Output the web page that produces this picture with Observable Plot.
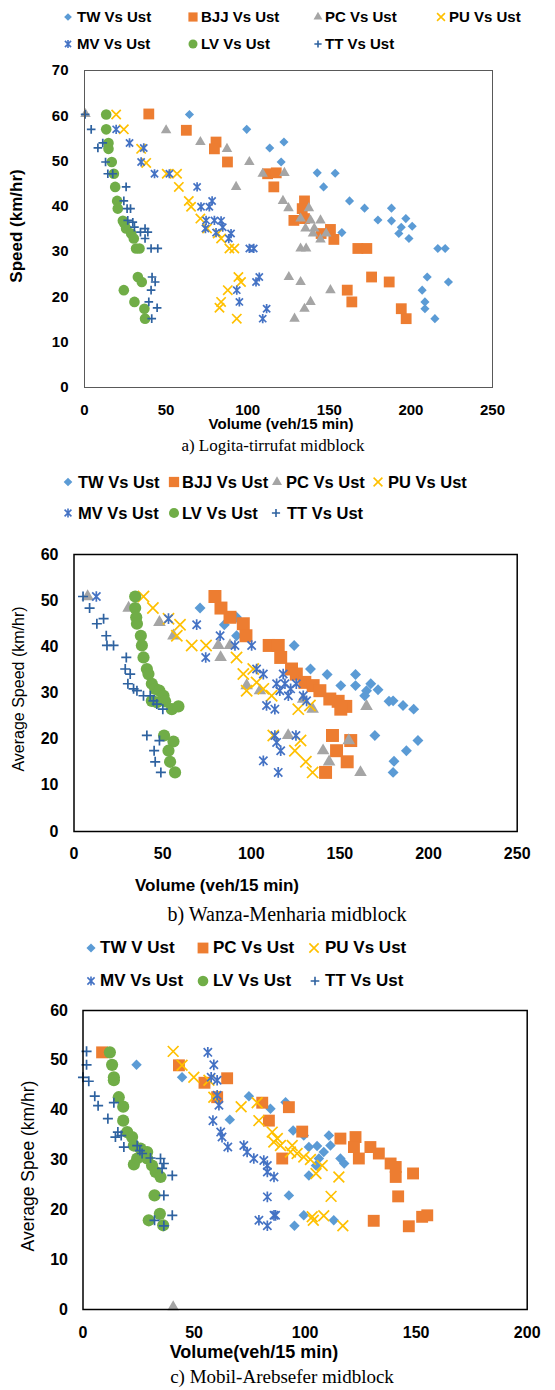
<!DOCTYPE html>
<html><head><meta charset="utf-8">
<script src="https://cdn.jsdelivr.net/npm/d3@7"></script>
<script src="https://cdn.jsdelivr.net/npm/@observablehq/plot@0.6"></script>
<style>
body{margin:0;background:#fff;}
#page{position:relative;width:555px;height:1390px;overflow:hidden;background:#fff;font-family:"Liberation Sans",Arial,sans-serif;color:#000;}
.abs{position:absolute;white-space:nowrap;line-height:1.15;}
.svgwrap{position:absolute;left:0;}
</style></head><body><div id="page"></div>
<script>
// ---------- Panel a) Logita-tirrufat midblock : [volume, speed] ----------
const aTW = [[64.3,60.3],[99.4,57],[113.5,52.9],[122.2,54.2],[120.5,49.8],[142.6,47.4],[153.6,47.3],[146.5,44.3],[162.4,41.2],[171.6,39.6],[188.1,39.6],[179.8,37],[188.1,36.8],[196.9,37.3],[194.1,35.4],[200.8,35.6],[192.6,34],[198.8,32.9],[157.7,34.2],[216.5,30.7],[221,30.7],[210,24.4],[223,23.3],[206.9,21.5],[208.6,18.9],[208.6,17.4],[214.7,15.2]];
const aBJJ = [[39.4,60.4],[62.4,56.8],[80.6,54.2],[79.6,52.7],[87.6,49.8],[112.2,47.2],[117.5,47.4],[116,44.3],[134.8,41.2],[133.4,39.5],[128.3,36.9],[134.8,37.3],[150.7,34.9],[145,34],[152.8,32.7],[167.5,30.7],[173,30.7],[175.9,24.4],[186.7,23.3],[161,21.5],[163.8,18.9],[194.1,17.4],[197.1,15.2]];
const aPC = [[0.6,60.4],[50,56.8],[71,54.2],[87.3,52.7],[101,49.8],[109.2,47.2],[122.5,47.4],[92.9,44.3],[121.6,41.2],[125,39.6],[137.5,39.6],[132.4,37.3],[138.5,36.9],[144.6,36.9],[135.4,35.1],[140.8,35.1],[140,34],[148.1,34],[144.6,32.7],[132.4,30.7],[135.8,30.7],[125.2,24.4],[132.4,23.3],[150.7,21.5],[138.5,18.9],[134.8,17.4],[128.7,15.2]];
const aPU = [[19.4,60.3],[24.1,57],[34.7,52.7],[37.8,49.6],[50.4,47.2],[56.7,47.2],[57.8,44.3],[63.9,41.2],[65.3,39.9],[71,37.3],[75.1,35.1],[81.6,34],[83.7,32.9],[88.8,30.7],[91.8,30.7],[94.3,24.4],[95.9,23.3],[87.8,21.5],[83.7,18.9],[82.7,17.6],[93.3,15.2]];
const aMV = [[19.4,57],[27.6,54],[36.3,52.9],[34.7,49.8],[42.9,47.2],[52,47.2],[69,44.3],[71.4,39.9],[76.5,39.9],[78.2,41.2],[74.5,36.9],[79.6,36.9],[83.7,36.8],[74.1,35.1],[80.6,34.2],[84.7,35.4],[89.8,34],[88.4,32.9],[101,30.7],[103.7,30.7],[93.3,21.5],[94.9,18.9],[105.1,23.3],[107.1,24.4],[111.6,17.4],[109.2,15.2]];
const aLV = [[13.3,60.3],[13.3,57],[14.7,54],[14.7,52.7],[16.7,49.8],[18,47.2],[18.8,44.3],[20,41.2],[20.4,39.5],[24.5,36.2],[23.5,36.8],[25.5,35.1],[28.6,34],[30.2,32.9],[31.6,30.7],[33.7,30.7],[32.7,24.4],[35.1,23.3],[24.1,21.5],[30.6,18.9],[36.7,17.4],[37.1,15.2]];
const aTT = [[0.4,60.3],[4.1,57],[8.2,52.9],[11.2,54],[12.9,49.8],[14.3,47.2],[17.3,47.2],[25.5,44.3],[24.1,41.2],[26.1,39.5],[28.2,39.5],[26.5,36.9],[29.6,36.5],[30.6,35.4],[37.1,35.1],[34.3,34.3],[38.8,34.3],[37.1,32.9],[40.8,30.7],[44.9,30.7],[41.4,24.4],[43.3,23.3],[40.8,21.5],[39.4,18.9],[44.5,17.6],[41.2,15.2]];
const aXTicks = [0,50,100,150,200,250];
const aYTicks = [0,10,20,30,40,50,60,70];

// ---------- Panel b) Wanza-Menharia midblock ----------
const bTW = [[71.1,48.4],[84.8,44.8],[91.7,46.4],[91.7,42.4],[124.2,40.3],[133.4,35.2],[142.8,34],[150.5,31.6],[158.8,34],[158.8,31.6],[167.4,32],[171.5,30.7],[165,30.5],[164,29.4],[177.7,28.2],[180,28.3],[185.6,27.3],[191.6,26.5],[169.7,20.8],[194,19.7],[187.5,17.5],[180.5,15.2],[180,12.8]];
const bBJJ = [[79.5,50.9],[82.9,48.4],[88,46.4],[95.5,45],[97,42.4],[110.1,40.3],[115.2,40.3],[116.6,37.7],[122.7,35.2],[125.4,34.1],[130.2,32.3],[134.9,31.6],[138.7,30.5],[144.3,28.7],[149,28.2],[153.3,27.1],[150.5,26.5],[145.8,20.8],[156.1,19.7],[148.1,17.5],[154.1,15.1],[141.9,12.8]];
const bPC = [[7.7,50.9],[30.8,48.4],[48.2,45.3],[56.1,42.4],[81.4,40.3],[88,40.3],[82.7,37.7],[97.4,31.6],[104.9,30.5],[129.3,28.7],[134.6,26.5],[165,27.1],[120.8,20.8],[155,19.7],[140.5,17.5],[143.9,15.1],[161.6,12.8]];
const bPU = [[39.2,50.9],[44.5,48.4],[53.3,46.1],[59.8,44.8],[58,42.4],[66.4,40.3],[74.5,40.3],[91.7,37.7],[95.5,34.1],[101.1,35.2],[97.4,30.5],[103,32.3],[106.8,30.9],[111.5,29.4],[126.5,26.5],[133.1,27.3],[112.4,20.8],[127.8,19.7],[124.6,17.5],[130.8,15.1],[134.6,12.8]];
const bMV = [[12.6,50.9],[53.3,46.1],[69.2,44.8],[82.4,42.4],[90.8,40.3],[100.2,40.3],[74.3,37.7],[103,35.2],[106.8,34.1],[108.6,27.3],[113.3,26.5],[114.3,32],[118,34.1],[116.1,30.5],[119,32],[122.2,30.9],[125.4,32],[120.9,29.4],[129.3,29.4],[131.2,28.3],[113.3,20.8],[114.3,19.3],[125.2,20.8],[116.6,17.5],[106.8,15.3],[115.2,12.8]];
const bLV = [[34.5,50.9],[34.5,48.4],[35.1,46.4],[35.5,45],[37.7,42.4],[38.3,40.3],[39.2,37.7],[41.1,35.2],[42,34.1],[43.9,32],[45.8,30.9],[48.2,30.5],[50.5,29.4],[43.9,28.3],[46.7,28],[51.4,28.2],[55.2,26.5],[58.9,27.1],[50.8,20.8],[56.1,19.5],[53.3,17.5],[54.2,15.1],[57,12.8]];
const bTT = [[5.1,50.9],[8.8,48.4],[12.9,45],[16.7,46.1],[18.2,42.4],[18.6,40.3],[22.3,40.3],[29.5,37.7],[28.9,35.2],[31.7,34.1],[30.4,32],[33.6,30.9],[35.5,30.5],[39.2,29.4],[43,29.4],[44.8,28.3],[46.7,27.6],[50.1,26.5],[41.1,20.8],[48.2,19.7],[45.2,17.5],[45.8,15.1],[49,12.8]];
const bXTicks = [0,50,100,150,200,250];
const bYTicks = [0,10,20,30,40,50,60];

// ---------- Panel c) Mobil-Arebsefer midblock ----------
const cTW = [[24.1,49.1],[44.6,46.6],[74.7,42.8],[66.1,38.1],[84.4,40.3],[91.2,41.6],[94.6,35.9],[99.4,34.9],[101.7,32.6],[105.4,32.8],[110.7,34.9],[111.4,32.9],[108.4,31.6],[106.2,30.3],[115.9,30.3],[117.6,29.3],[104.9,28.9],[101.7,26.9],[92.7,22.9],[99.4,18.9],[112.9,17.9],[95.2,16.8]];
const cPC = [[8.6,51.6],[43.2,49],[54.7,45.5],[64.9,46.4],[60.4,42.6],[80.7,41.5],[83.7,37.9],[92.7,40.6],[98.7,35.7],[89.7,30.3],[115.9,34.3],[122.7,34.6],[122,32.6],[124.2,30.3],[129.4,32.6],[133.2,31.3],[138.5,29.3],[140.8,28.6],[140.8,26.6],[148.6,27.3],[141.9,22.7],[130.9,17.8],[146.7,16.7],[152.7,18.6],[155,18.9]];
const cGray = [[40.6,0.5]];
const cPU = [[40.6,51.8],[44.6,49],[49.9,46.6],[56.7,46],[58.9,42.6],[71.2,40.7],[78.4,41.5],[79.2,37.9],[85.2,35.6],[87.5,34.3],[85.9,33.6],[88.9,32.9],[94.2,32.9],[93.4,31.6],[96.4,31.3],[99.4,30.6],[102.4,30.1],[107.7,28.9],[104.9,27.3],[115.2,26.6],[111.7,22.7],[103.2,18.6],[103.7,17.9],[108.4,18.8],[117,16.8]];
const cMV = [[56.2,51.6],[58.9,49.1],[57.7,46.6],[60.4,46],[60.4,43],[61.2,41],[58.5,37.9],[62,35.6],[62.6,34.6],[65.2,32.6],[72.4,32.9],[73.9,31.6],[76.9,30.3],[81.4,29.9],[83,28.9],[83,27.6],[86,26.6],[83,22.6],[79.2,17.9],[83,16.8],[86,18.9],[86.7,18.9]];
const cLV = [[12.1,51.6],[13.1,49.1],[13.9,46.6],[13.9,46],[16.1,42.6],[18.1,40.7],[18.1,37.9],[19.9,35.6],[22.1,34.6],[22.9,32.9],[25.9,32.3],[28.9,31.6],[22.9,29.1],[24.4,30.3],[28.9,30.3],[31.1,28.9],[32.7,27.6],[34.9,26.6],[32.2,22.9],[34.6,19.2],[29.6,17.9],[36.1,16.9]];
const cTT = [[1.6,51.8],[1.6,49.1],[0,46.6],[2.6,45.8],[5.3,42.8],[6.8,40.9],[11.2,38.3],[13.9,41.5],[15.7,35.6],[14.6,34.6],[17.2,34.9],[18.4,32.6],[24.4,32.9],[25.6,31.9],[26.6,31.3],[30.4,30.4],[34.9,30.3],[36.4,29.3],[35.6,28.3],[40.2,26.9],[36.4,22.9],[40.2,18.9],[36.4,16.8],[32.2,17.9]];
const cXTicks = [0,50,100,150,200];
const cYTicks = [0,10,20,30,40,50,60];

// ---------- styles ----------
const starSym = {draw(ctx, size){const r=Math.sqrt(size/Math.PI)*1.05;const d=r*0.78;ctx.moveTo(0,-r);ctx.lineTo(0,r);ctx.moveTo(-d,-d);ctx.lineTo(d,d);ctx.moveTo(-d,d);ctx.lineTo(d,-d);}};
const ST = {
  TW:{sym:d3.symbolDiamond2, color:"#5B9BD5", filled:true, r:4.1},
  BJJ:{sym:d3.symbolSquare, color:"#ED7D31", filled:true, r:6.1},
  PC:{sym:d3.symbolTriangle, color:"#A5A5A5", filled:true, r:3.9},
  PU:{sym:d3.symbolTimes, color:"#FFC000", filled:false, r:4.3},
  MV:{sym:starSym, color:"#4472C4", filled:false, r:4.4},
  LV:{sym:d3.symbolCircle, color:"#70AD47", filled:true, r:5.3},
  TT:{sym:d3.symbolPlus, color:"#2E62A0", filled:false, r:2.9}
};
function dots(data, key, k){
  const s = ST[key];
  const o = {x:d=>d[0], y:d=>d[1], symbol:s.sym, r:s.r*k};
  if (s.filled) { o.fill = s.color; o.stroke = "none"; }
  else { o.fill = "none"; o.stroke = s.color; o.strokeWidth = 1.7; }
  return Plot.dot(data, o);
}
const page = document.getElementById("page");
function addText(str, x, y, opts){
  const el = document.createElement("div");
  el.className = "abs";
  el.textContent = str;
  el.style.left = x+"px"; el.style.top = y+"px";
  el.style.fontSize = opts.size+"px";
  el.style.fontWeight = opts.bold ? "bold" : "normal";
  if (opts.serif) el.style.fontFamily = '"Liberation Serif","Times New Roman",serif';
  el.style.transform = "translate(-50%,-50%)" + (opts.rot ? " rotate(-90deg)" : "") + (opts.sx ? " scaleX("+opts.sx+")" : "");
  page.appendChild(el);
}
function addLegend(items, size, k){
  for (const it of items){
    const s = ST[it.key];
    const svg = d3.create("svg").attr("width",20).attr("height",20)
      .style("position","absolute").style("left",(it.mx-10)+"px").style("top",(it.y-10)+"px").style("overflow","visible");
    const area = Math.PI*(s.r*k)*(s.r*k);
    const p = svg.append("path").attr("transform","translate(10,10)").attr("d", d3.symbol(s.sym, area)());
    if (s.filled) p.attr("fill", s.color); else p.attr("fill","none").attr("stroke", s.color).attr("stroke-width",1.6);
    page.appendChild(svg.node());
    const el = document.createElement("div");
    el.className = "abs";
    el.textContent = it.label;
    el.style.left = it.tx+"px"; el.style.top = it.y+"px";
    el.style.transform = "translateY(-50%)";
    el.style.fontSize = size+"px"; el.style.fontWeight = "bold";
    page.appendChild(el);
  }
}
function addPlot(top, cfg){
  const svg = Plot.plot({
    width:555, height:cfg.h, marginTop:cfg.mt, marginBottom:cfg.h-cfg.fb, marginLeft:cfg.ml, marginRight:555-cfg.mr,
    x:{domain:cfg.xd, axis:null}, y:{domain:cfg.yd, axis:null},
    style:{fontFamily:'"Liberation Sans",Arial,sans-serif', fontSize:cfg.fs+"px", fontWeight:"bold", color:"#000", background:"transparent", overflow:"visible"},
    marks:[
      Plot.axisX(cfg.xt, {tickSize:0, tickPadding:cfg.xp, label:null}),
      Plot.axisY(cfg.yt, {tickSize:0, tickPadding:cfg.yp, label:null}),
      ...cfg.marks,
      Plot.frame({stroke:cfg.frame, strokeWidth:cfg.fw})
    ]
  });
  const wrap = document.createElement("div");
  wrap.className = "svgwrap"; wrap.style.top = top+"px";
  wrap.appendChild(svg);
  page.appendChild(wrap);
}

// ----- Panel a -----
addLegend([
  {key:"TW",label:"TW Vs Ust",mx:68,tx:77,y:17},{key:"BJJ",label:"BJJ Vs Ust",mx:193,tx:201,y:17},
  {key:"PC",label:"PC Vs Ust",mx:318,tx:325,y:17},{key:"PU",label:"PU Vs Ust",mx:441,tx:449,y:17},
  {key:"MV",label:"MV Vs Ust",mx:68,tx:77,y:44},{key:"LV",label:"LV Vs Ust",mx:193,tx:201,y:44},
  {key:"TT",label:"TT Vs Ust",mx:318,tx:325,y:44}
], 15, 0.85);
addPlot(55, {h:380, mt:15, fb:332, ml:84, mr:492, xd:[0,250], yd:[0,70], xt:aXTicks, yt:aYTicks, xp:17, yp:16, fs:15, frame:"#595959", fw:1,
  marks:[dots(aTW,"TW",1),dots(aBJJ,"BJJ",1),dots(aPC,"PC",1),dots(aPU,"PU",1),dots(aMV,"MV",1),dots(aLV,"LV",1),dots(aTT,"TT",1)]});
addText("Volume (veh/15 min)", 281, 424, {size:15, bold:true});
addText("Speed (km/hr)", 17, 226, {size:17, bold:true, rot:true});
addText("a) Logita-tirrufat midblock", 273, 446, {size:17, serif:true});

// ----- Panel b -----
addLegend([
  {key:"TW",label:"TW Vs Ust",mx:68,tx:78,y:482},{key:"BJJ",label:"BJJ Vs Ust",mx:174,tx:182,y:482},
  {key:"PC",label:"PC Vs Ust",mx:277,tx:286,y:482},{key:"PU",label:"PU Vs Ust",mx:378,tx:388,y:482},
  {key:"MV",label:"MV Vs Ust",mx:68,tx:78,y:513},{key:"LV",label:"LV Vs Ust",mx:174,tx:182,y:513},
  {key:"TT",label:"TT Vs Ust",mx:276,tx:287,y:513}
], 16.5, 0.95);
addPlot(540, {h:330, mt:14, fb:291, ml:73.5, mr:516.7, xd:[0,250], yd:[0,60], xt:bXTicks, yt:bYTicks, xp:16, yp:15.5, fs:16, frame:"#000", fw:1.5,
  marks:[dots(bTW,"TW",1.2),dots(bBJJ,"BJJ",1.2),dots(bPC,"PC",1.2),dots(bPU,"PU",1.2),dots(bMV,"MV",1.15),dots(bLV,"LV",1.15),dots(bTT,"TT",1.15)]});
addText("Volume (veh/15 min)", 217, 886, {size:17, bold:true});
addText("Average Speed (km/hr)", 19, 689, {size:16, rot:true});
addText("b) Wanza-Menharia midblock", 287, 914, {size:20, serif:true});

// ----- Panel c -----
addLegend([
  {key:"TW",label:"TW V Ust",mx:91,tx:100,y:948},{key:"BJJ",label:"PC Vs Ust",mx:203,tx:213,y:948},
  {key:"PU",label:"PU Vs Ust",mx:314,tx:325,y:948},
  {key:"MV",label:"MV Vs Ust",mx:91,tx:100,y:981},{key:"LV",label:"LV Vs Ust",mx:203,tx:213,y:981},
  {key:"TT",label:"TT Vs Ust",mx:315,tx:325,y:981}
], 17, 1.0);
addPlot(995, {h:345, mt:15, fb:314, ml:82.5, mr:526.7, xd:[0,200], yd:[0,60], xt:cXTicks, yt:cYTicks, xp:17, yp:15, fs:16, frame:"#000", fw:1.5,
  marks:[dots(cTW,"TW",1.15),dots(cPC,"BJJ",1.1),dots(cGray,"PC",1.1),dots(cPU,"PU",1.15),dots(cMV,"MV",1.15),dots(cLV,"LV",1.15),dots(cTT,"TT",1.15)]});
addText("Volume(veh/15 min)", 254, 1352, {size:18, bold:true});
addText("Average Spee (km/hr)", 28, 1166, {size:17.5, rot:true});
addText("c) Mobil-Arebsefer midblock", 282, 1377, {size:19, serif:true});
</script></body></html>
